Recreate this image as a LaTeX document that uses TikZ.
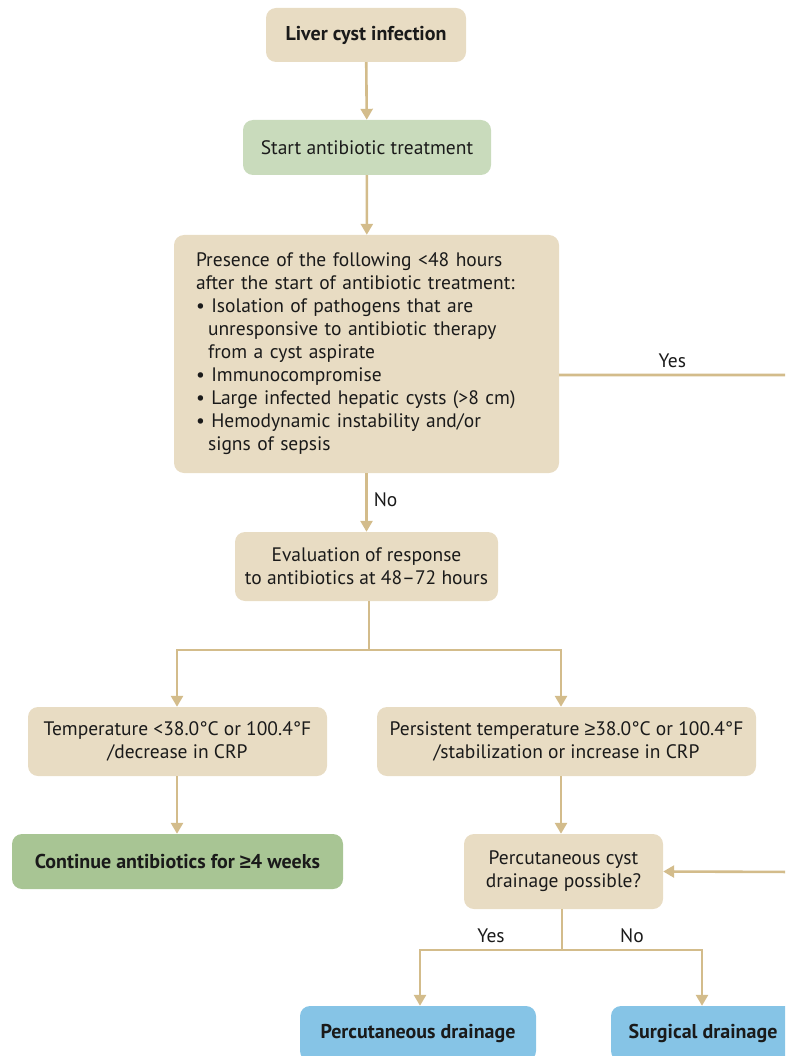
\documentclass[tikz,border=0pt]{standalone}
\usepackage{fontspec}
\setmainfont{PT Sans}
\newfontfamily\symf{Liberation Sans}
\newcommand{\mygeq}{{\symf ≥}}
\usetikzlibrary{arrows.meta,positioning,calc}
\definecolor{beige}{HTML}{E8DCC3}
\definecolor{lgreen}{HTML}{C9DBBC}
\definecolor{dgreen}{HTML}{A8C594}
\definecolor{lblue}{HTML}{86C4E6}
\definecolor{linec}{HTML}{D3BC8B}
\definecolor{txt}{HTML}{1A1A1A}
\begin{document}
\begin{tikzpicture}[x=1pt,y=-1pt,
  box/.style={rounded corners=10pt,inner sep=0pt,align=center,text=txt,
    font=\fontsize{19.5}{23}\selectfont},
  bbox/.style={box,font=\fontsize{20}{23}\selectfont\bfseries},
  conn/.style={draw=linec,line width=2.6pt},
  arr/.style={conn,-{Triangle[width=12pt,length=11pt]}},
  lab/.style={text=txt,font=\fontsize{19.5}{20}\selectfont,inner sep=0pt}]
\useasboundingbox (0,0) rectangle (785,1056);
\clip (0,0) rectangle (785,1056);
\node[bbox,fill=beige,minimum width=200pt,minimum height=54pt] (n1) at (366,35) {Liver cyst infection};
\node[box,fill=lgreen,minimum width=248pt,minimum height=55pt] (n2) at (367,147.5) {Start antibiotic treatment};
\node[box,fill=beige,minimum width=385pt,minimum height=238pt,align=left,text width=341pt] (n3) at (366.5,354) {Presence of the following <48 hours\\after the start of antibiotic treatment:\\\textbullet\ Isolation of pathogens that are\\\phantom{\textbullet}\,unresponsive to antibiotic therapy\\\phantom{\textbullet}\,from a cyst aspirate\\\textbullet\ Immunocompromise\\\textbullet\ Large infected hepatic cysts (>8 cm)\\\textbullet\ Hemodynamic instability and/or\\\phantom{\textbullet}\,signs of sepsis};
\node[box,fill=beige,minimum width=263pt,minimum height=69pt] (n4) at (366.5,566.5) {Evaluation of response\\to antibiotics at 48–72 hours};
\node[box,fill=beige,minimum width=299pt,minimum height=69pt] (n5) at (177.5,741.5) {Temperature <38.0°C or 100.4°F\\/decrease in CRP};
\node[box,fill=beige,minimum width=379pt,minimum height=69pt] (n6) at (566.5,741.5) {Persistent temperature \mygeq38.0°C or 100.4°F\\/stabilization or increase in CRP};
\node[bbox,fill=dgreen,minimum width=331pt,minimum height=55pt] (n7) at (177.5,861.5) {Continue antibiotics for \mygeq4 weeks};
\node[box,fill=beige,minimum width=199pt,minimum height=75pt] (n8) at (563.5,871.5) {Percutaneous cyst\\drainage possible?};
\node[bbox,fill=lblue,minimum width=236pt,minimum height=55pt] (n9) at (418,1033.5) {Percutaneous drainage};
\node[bbox,fill=lblue,minimum width=184pt,minimum height=55pt] (n10) at (703,1033.5) {Surgical drainage};
% connectors
\draw[arr] (n1) -- (n2);
\draw[arr] (n2) -- (n3);
\draw[arr] (n3) -- node[lab,right=6pt,pos=0.45]{No} (n4);
\coordinate (yr) at (800,375);
\coordinate (rr) at (800,872);
\draw[arr] (n3.east |- yr) -- node[lab,above=6pt,pos=0.47]{Yes} (yr) -- (rr) -- (n8.east);
\coordinate (b1) at (369,650);
\coordinate (bl) at (177,650);
\coordinate (br) at (561,650);
\draw[conn] (n4.south -| b1) -- (b1);
\draw[arr] (b1) -- (bl) -- (bl |- n5.north);
\draw[arr] (b1) -- (br) -- (br |- n6.north);
\draw[arr] (bl |- n5.south) -- (bl |- n7.north);
\draw[arr] (br |- n6.south) -- (br |- n8.north);
\coordinate (b2) at (562,950);
\coordinate (b2l) at (420,950);
\coordinate (b2r) at (702,950);
\draw[conn] (n8.south -| b2) -- (b2);
\draw[arr] (b2) -- node[lab,above=6pt]{Yes} (b2l) -- (b2l |- n9.north);
\draw[arr] (b2) -- node[lab,above=6pt]{No} (b2r) -- (b2r |- n10.north);
\end{tikzpicture}
\end{document}
